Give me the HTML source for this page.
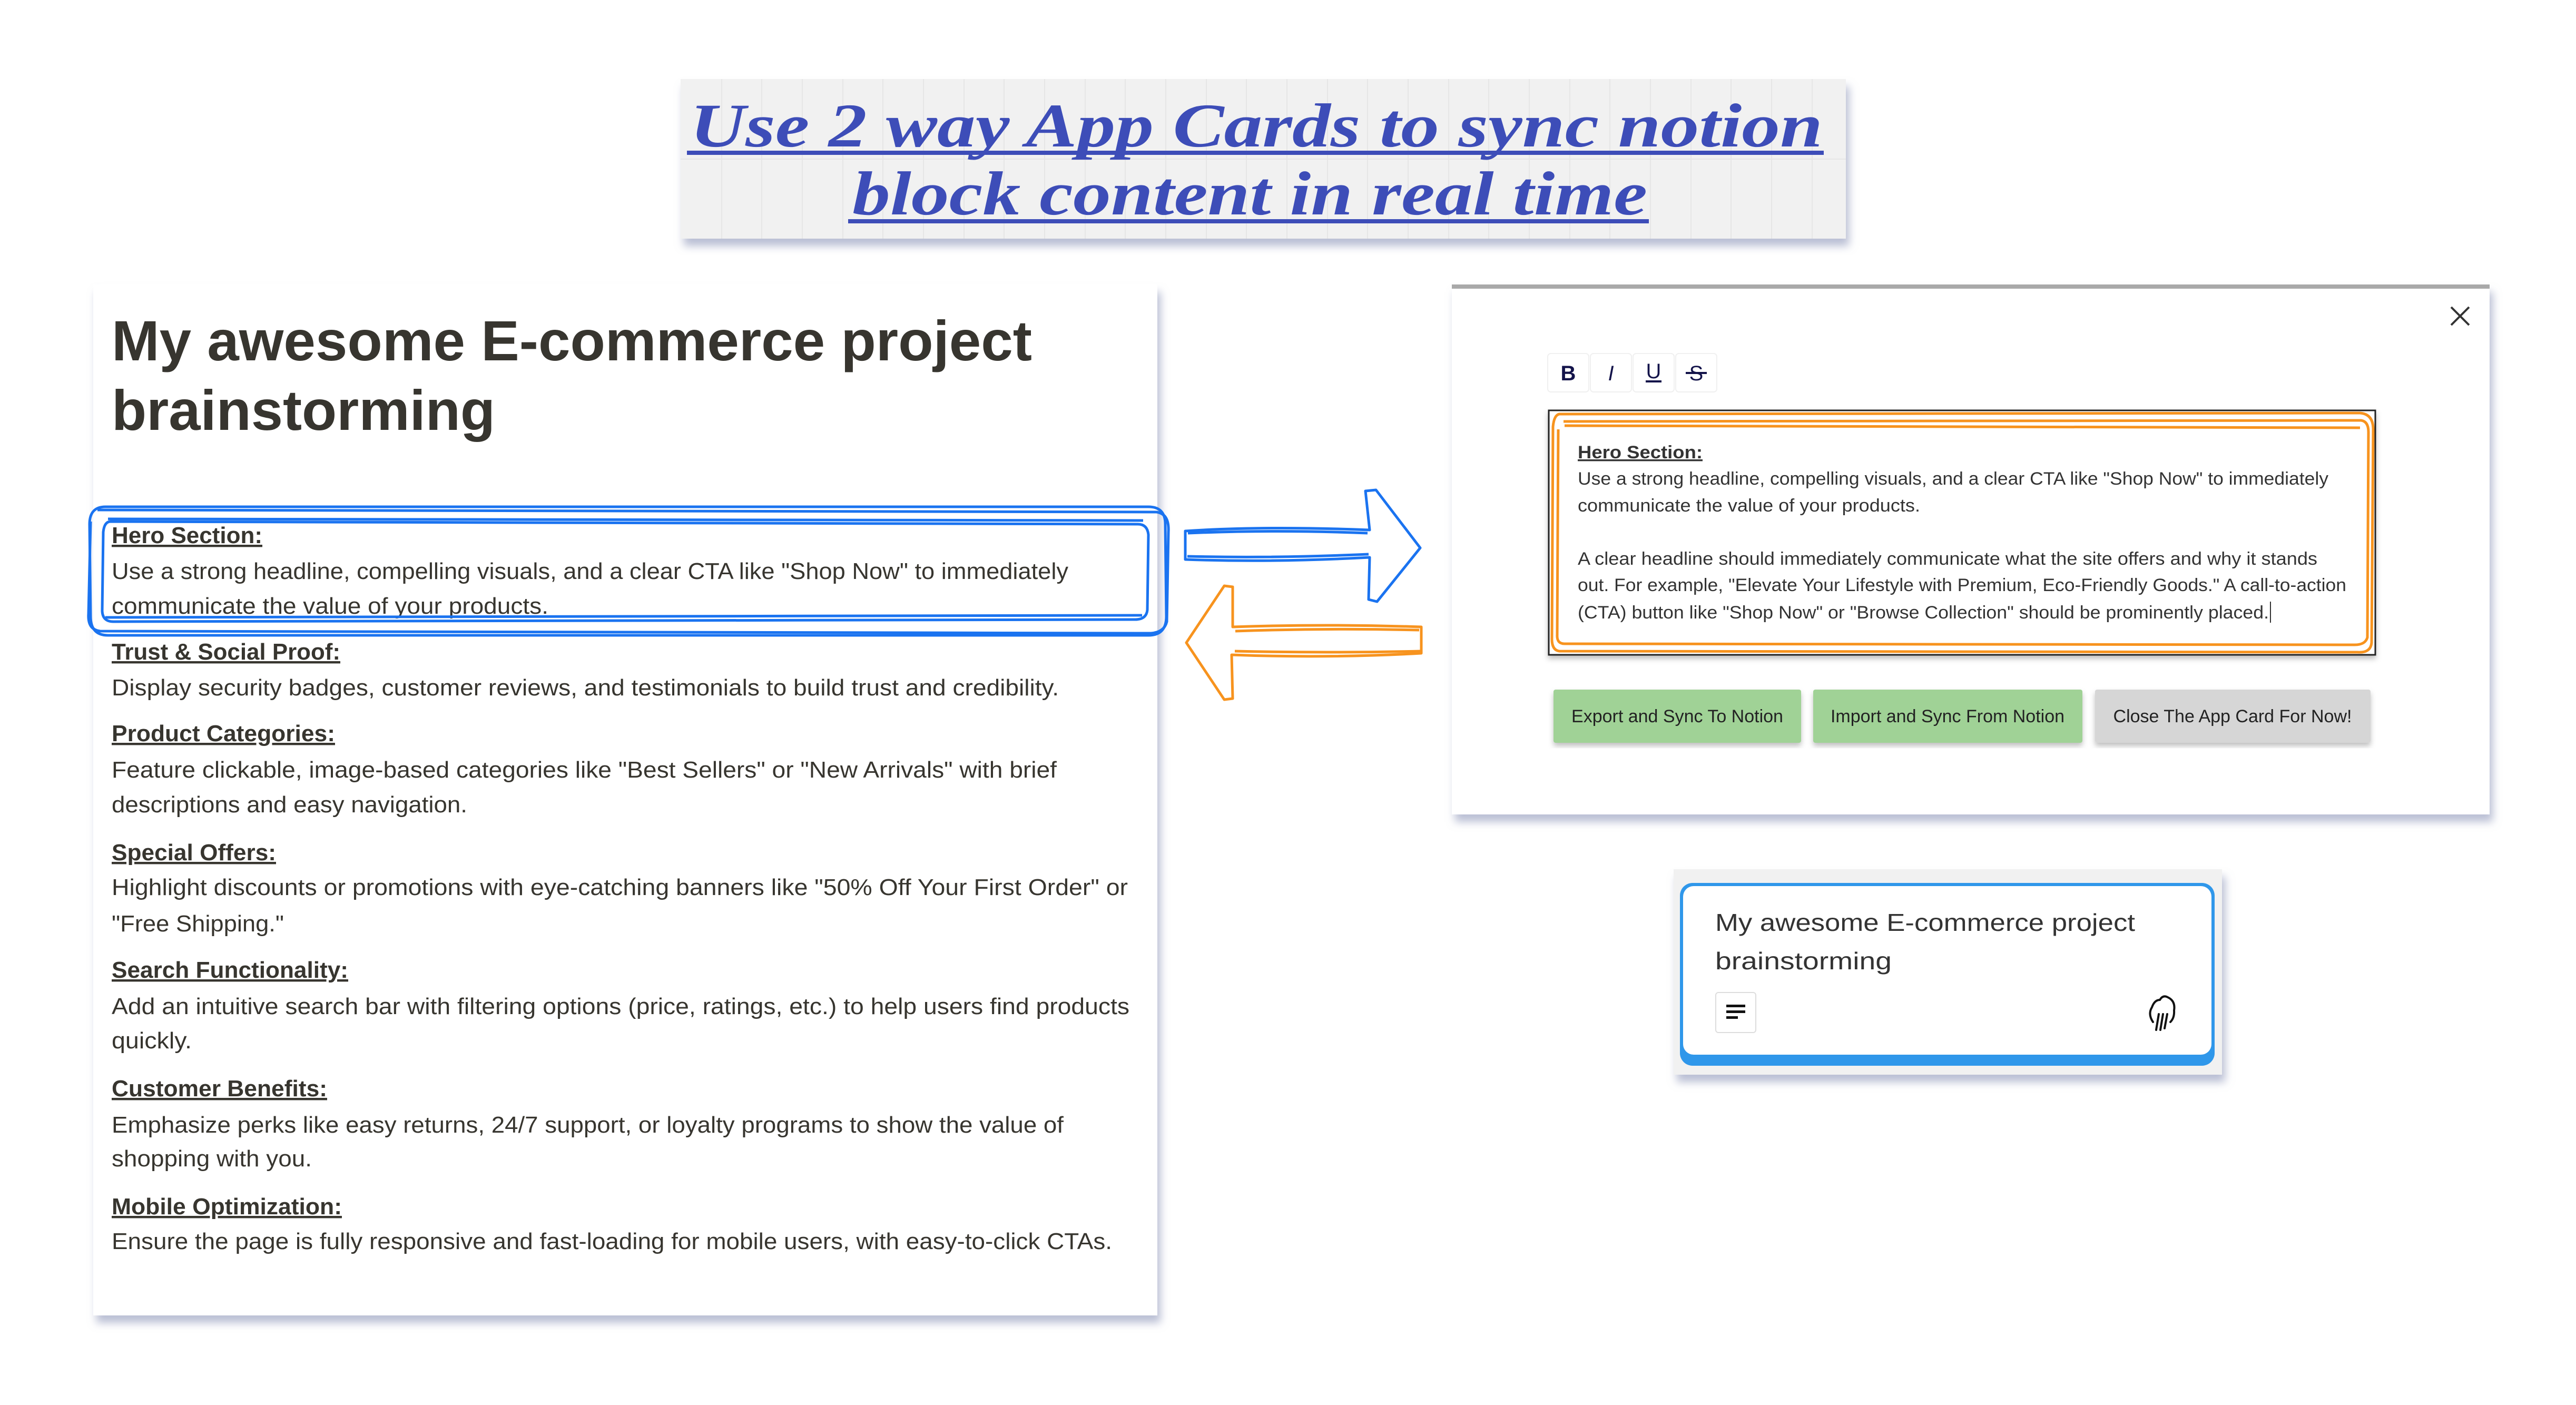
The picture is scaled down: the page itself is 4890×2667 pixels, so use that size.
<!DOCTYPE html>
<html><head><meta charset="utf-8"><style>html,body{margin:0;padding:0;background:#fff}svg{display:block}</style></head>
<body>
<svg xmlns="http://www.w3.org/2000/svg" width="4890" height="2667" viewBox="0 0 4890 2667">
<defs>
<filter id="sh" x="-5%" y="-5%" width="110%" height="115%"><feDropShadow dx="6" dy="14" stdDeviation="8" flood-color="#8088b0" flood-opacity="0.55"/></filter>
<filter id="sh2" x="-5%" y="-5%" width="110%" height="115%"><feDropShadow dx="0" dy="6" stdDeviation="5" flood-color="#000" flood-opacity="0.25"/></filter>
</defs>
<rect width="4890" height="2667" fill="#fff"/>

<!-- Title -->
<rect x="1292" y="150" width="2212" height="303" fill="#f1f1f1" filter="url(#sh)"/>
<g stroke="#e6e6e6" stroke-width="2">
<line x1="1370" y1="150" x2="1370" y2="453"/><line x1="1446" y1="150" x2="1446" y2="453"/><line x1="1523" y1="150" x2="1523" y2="453"/><line x1="1600" y1="150" x2="1600" y2="453"/><line x1="1676" y1="150" x2="1676" y2="453"/><line x1="1753" y1="150" x2="1753" y2="453"/><line x1="1830" y1="150" x2="1830" y2="453"/><line x1="1906" y1="150" x2="1906" y2="453"/><line x1="1983" y1="150" x2="1983" y2="453"/><line x1="2060" y1="150" x2="2060" y2="453"/><line x1="2136" y1="150" x2="2136" y2="453"/><line x1="2213" y1="150" x2="2213" y2="453"/><line x1="2290" y1="150" x2="2290" y2="453"/><line x1="2366" y1="150" x2="2366" y2="453"/><line x1="2443" y1="150" x2="2443" y2="453"/><line x1="2520" y1="150" x2="2520" y2="453"/><line x1="2596" y1="150" x2="2596" y2="453"/><line x1="2673" y1="150" x2="2673" y2="453"/><line x1="2750" y1="150" x2="2750" y2="453"/><line x1="2826" y1="150" x2="2826" y2="453"/><line x1="2903" y1="150" x2="2903" y2="453"/><line x1="2980" y1="150" x2="2980" y2="453"/><line x1="3056" y1="150" x2="3056" y2="453"/><line x1="3133" y1="150" x2="3133" y2="453"/><line x1="3210" y1="150" x2="3210" y2="453"/><line x1="3286" y1="150" x2="3286" y2="453"/><line x1="3363" y1="150" x2="3363" y2="453"/><line x1="3440" y1="150" x2="3440" y2="453"/>
<line x1="1292" y1="302" x2="3504" y2="302"/>
</g>
<g font-family="Liberation Serif, serif" font-weight="bold" font-style="italic" fill="#3d4db8" font-size="118">
<text x="1310" y="278" textLength="2150" lengthAdjust="spacingAndGlyphs">Use 2 way App Cards to sync notion</text>
<text x="1618" y="407" textLength="1509" lengthAdjust="spacingAndGlyphs">block content in real time</text>
</g>
<rect x="1304" y="286" width="2158" height="8" fill="#3d4db8"/>
<rect x="1610" y="416" width="1520" height="8" fill="#3d4db8"/>

<!-- Left Notion panel -->
<rect x="177" y="540" width="2020" height="1957" fill="#fff" filter="url(#sh)"/>
<g font-family="Liberation Sans, sans-serif" fill="#37352f">
<text x="212" y="684" font-size="108" font-weight="bold" textLength="1747" lengthAdjust="spacingAndGlyphs">My awesome E-commerce project</text>
<text x="212" y="816" font-size="108" font-weight="bold" textLength="728" lengthAdjust="spacingAndGlyphs">brainstorming</text>
<g font-size="44">
<text x="212" y="1031" font-weight="bold" textLength="286" lengthAdjust="spacingAndGlyphs" text-decoration="underline">Hero Section:</text>
<text x="212" y="1099" textLength="1816" lengthAdjust="spacingAndGlyphs">Use a strong headline, compelling visuals, and a clear CTA like "Shop Now" to immediately</text>
<text x="212" y="1165" textLength="829" lengthAdjust="spacingAndGlyphs">communicate the value of your products.</text>
<text x="212" y="1252" font-weight="bold" textLength="434" lengthAdjust="spacingAndGlyphs" text-decoration="underline">Trust &amp; Social Proof:</text>
<text x="212" y="1320" textLength="1798" lengthAdjust="spacingAndGlyphs">Display security badges, customer reviews, and testimonials to build trust and credibility.</text>
<text x="212" y="1407" font-weight="bold" textLength="424" lengthAdjust="spacingAndGlyphs" text-decoration="underline">Product Categories:</text>
<text x="212" y="1476" textLength="1794" lengthAdjust="spacingAndGlyphs">Feature clickable, image-based categories like "Best Sellers" or "New Arrivals" with brief</text>
<text x="212" y="1542" textLength="675" lengthAdjust="spacingAndGlyphs">descriptions and easy navigation.</text>
<text x="212" y="1633" font-weight="bold" textLength="312" lengthAdjust="spacingAndGlyphs" text-decoration="underline">Special Offers:</text>
<text x="212" y="1699" textLength="1929" lengthAdjust="spacingAndGlyphs">Highlight discounts or promotions with eye-catching banners like "50% Off Your First Order" or</text>
<text x="212" y="1768" textLength="327" lengthAdjust="spacingAndGlyphs">"Free Shipping."</text>
<text x="212" y="1856" font-weight="bold" textLength="449" lengthAdjust="spacingAndGlyphs" text-decoration="underline">Search Functionality:</text>
<text x="212" y="1925" textLength="1932" lengthAdjust="spacingAndGlyphs">Add an intuitive search bar with filtering options (price, ratings, etc.) to help users find products</text>
<text x="212" y="1990" textLength="152" lengthAdjust="spacingAndGlyphs">quickly.</text>
<text x="212" y="2081" font-weight="bold" textLength="409" lengthAdjust="spacingAndGlyphs" text-decoration="underline">Customer Benefits:</text>
<text x="212" y="2150" textLength="1807" lengthAdjust="spacingAndGlyphs">Emphasize perks like easy returns, 24/7 support, or loyalty programs to show the value of</text>
<text x="212" y="2214" textLength="380" lengthAdjust="spacingAndGlyphs">shopping with you.</text>
<text x="212" y="2305" font-weight="bold" textLength="437" lengthAdjust="spacingAndGlyphs" text-decoration="underline">Mobile Optimization:</text>
<text x="212" y="2371" textLength="1899" lengthAdjust="spacingAndGlyphs">Ensure the page is fully responsive and fast-loading for mobile users, with easy-to-click CTAs.</text>
</g>
</g>

<!-- blue scribble around hero -->
<g fill="none" stroke="#1a73f0" stroke-width="5">
<path d="M200 962 L2180 962 Q2212 962 2212 995 L2214 1170 Q2214 1206 2180 1206 L205 1206 Q172 1206 172 1170 L170 995 Q170 962 200 962 Z"/>
<path d="M185 968 L2195 972 Q2220 975 2218 1010 L2215 1180 Q2210 1200 2185 1202 L190 1198 Q166 1195 168 1165 L172 990"/>
<path d="M210 990 L2160 995 Q2178 995 2180 1015 L2178 1158 Q2176 1176 2155 1176 L215 1180 Q195 1180 194 1160 L196 1010 Q198 990 210 990 Z"/>
<path d="M205 985 L2170 988 M200 1172 L2168 1168"/>
</g>

<!-- blue right arrow -->
<g fill="none" stroke="#1a73f0" stroke-width="5" stroke-linejoin="round">
<path d="M2250 1008 Q2400 998 2600 1006 L2592 932 L2612 930 L2696 1040 L2614 1142 L2598 1138 L2600 1058 Q2420 1068 2250 1062 Z"/>
<path d="M2255 1012 Q2420 1005 2596 1012 M2254 1056 Q2420 1060 2598 1052"/>
</g>
<!-- orange left arrow -->
<g fill="none" stroke="#f7931e" stroke-width="5" stroke-linejoin="round">
<path d="M2698 1190 Q2520 1184 2340 1190 L2340 1114 L2324 1112 L2252 1220 L2324 1328 L2340 1326 L2338 1243 Q2520 1250 2698 1240 Z"/>
<path d="M2694 1196 Q2520 1192 2345 1198 M2696 1236 Q2520 1240 2344 1236"/>
</g>

<!-- Right modal -->
<rect x="2756" y="540" width="1970" height="1006" fill="#fff" filter="url(#sh)"/>
<rect x="2756" y="540" width="1970" height="8" fill="#a9a9a9"/>
<g stroke="#333" stroke-width="4"><line x1="4653" y1="583" x2="4687" y2="617"/><line x1="4687" y1="583" x2="4653" y2="617"/></g>
<g fill="#fff" stroke="#f0f0f0" stroke-width="2">
<rect x="2938" y="671" width="78" height="73" rx="6"/><rect x="3019" y="671" width="78" height="73" rx="6"/><rect x="3100" y="671" width="78" height="73" rx="6"/><rect x="3181" y="671" width="78" height="73" rx="6"/>
</g>
<g font-family="Liberation Sans, sans-serif" fill="#13134a" font-size="40" text-anchor="middle">
<text x="2977" y="722" font-weight="bold">B</text>
<text x="3058" y="722" font-style="italic">I</text>
<text x="3139" y="718">U</text>
<text x="3220" y="722">S</text>
</g>
<rect x="3124" y="722" width="30" height="4" fill="#13134a"/>
<rect x="3200" y="706" width="40" height="4" fill="#13134a"/>

<rect x="2940" y="779" width="1569" height="464" fill="#fff" stroke="#222" stroke-width="3" filter="url(#sh2)"/>
<g fill="none" stroke="#f7931e" stroke-width="5">
<path d="M2960 786 L4480 784 Q4505 786 4505 815 L4502 1220 Q4500 1240 4475 1238 L2960 1236 Q2945 1234 2946 1210 L2948 810 Q2950 788 2960 786 Z"/>
<path d="M2968 800 L4482 798 Q4496 800 4496 820 L4494 1210 Q4490 1224 4470 1224 L2970 1222 Q2955 1222 2956 1205 L2958 815"/>
<path d="M2970 808 L4480 812"/>
</g>
<g font-family="Liberation Sans, sans-serif" fill="#333" font-size="34">
<text x="2995" y="870" font-weight="bold" textLength="237" lengthAdjust="spacingAndGlyphs" text-decoration="underline">Hero Section:</text>
<text x="2995" y="920" textLength="1425" lengthAdjust="spacingAndGlyphs">Use a strong headline, compelling visuals, and a clear CTA like "Shop Now" to immediately</text>
<text x="2995" y="971" textLength="650" lengthAdjust="spacingAndGlyphs">communicate the value of your products.</text>
<text x="2995" y="1072" textLength="1404" lengthAdjust="spacingAndGlyphs">A clear headline should immediately communicate what the site offers and why it stands</text>
<text x="2995" y="1122" textLength="1459" lengthAdjust="spacingAndGlyphs">out. For example, "Elevate Your Lifestyle with Premium, Eco-Friendly Goods." A call-to-action</text>
<text x="2995" y="1174" textLength="1312" lengthAdjust="spacingAndGlyphs">(CTA) button like "Shop Now" or "Browse Collection" should be prominently placed.</text>
</g>
<rect x="4309" y="1142" width="2" height="40" fill="#333"/>

<g filter="url(#sh2)">
<rect x="2949" y="1309" width="470" height="101" rx="4" fill="#a0d296"/>
<rect x="3442" y="1309" width="511" height="101" rx="4" fill="#a0d296"/>
<rect x="3977" y="1309" width="523" height="101" rx="4" fill="#d6d6d6"/>
</g>
<g font-family="Liberation Sans, sans-serif" fill="#222" font-size="34" text-anchor="middle">
<text x="3184" y="1371">Export and Sync To Notion</text>
<text x="3697" y="1371">Import and Sync From Notion</text>
<text x="4238" y="1371">Close The App Card For Now!</text>
</g>

<!-- Bottom card -->
<rect x="3177" y="1650" width="1041" height="390" fill="#f1f1f1" filter="url(#sh)"/>
<rect x="3189" y="1676" width="1015" height="347" rx="24" fill="#2f97ea"/>
<rect x="3195" y="1682" width="1003" height="320" rx="20" fill="#fff"/>
<g font-family="Liberation Sans, sans-serif" fill="#333" font-size="46">
<text x="3256" y="1767" textLength="797" lengthAdjust="spacingAndGlyphs">My awesome E-commerce project</text>
<text x="3256" y="1840" textLength="335" lengthAdjust="spacingAndGlyphs">brainstorming</text>
</g>
<rect x="3257" y="1884" width="76" height="76" rx="5" fill="#fff" stroke="#ddd" stroke-width="2"/>
<rect x="3277" y="1907" width="36" height="5" fill="#111"/><rect x="3277" y="1918" width="36" height="5" fill="#111"/><rect x="3277" y="1929" width="22" height="5" fill="#111"/>
<g fill="none" stroke="#111" stroke-width="4" stroke-linecap="round">
<path d="M4087 1940 Q4077 1925 4085 1912 Q4090 1898 4100 1898 Q4106 1888 4115 1893 Q4130 1900 4127 1918 Q4128 1932 4120 1940"/>
<path d="M4098 1925 L4093 1955 M4106 1925 L4101 1955 M4114 1925 L4109 1952"/>
</g>
</svg>
</body></html>
